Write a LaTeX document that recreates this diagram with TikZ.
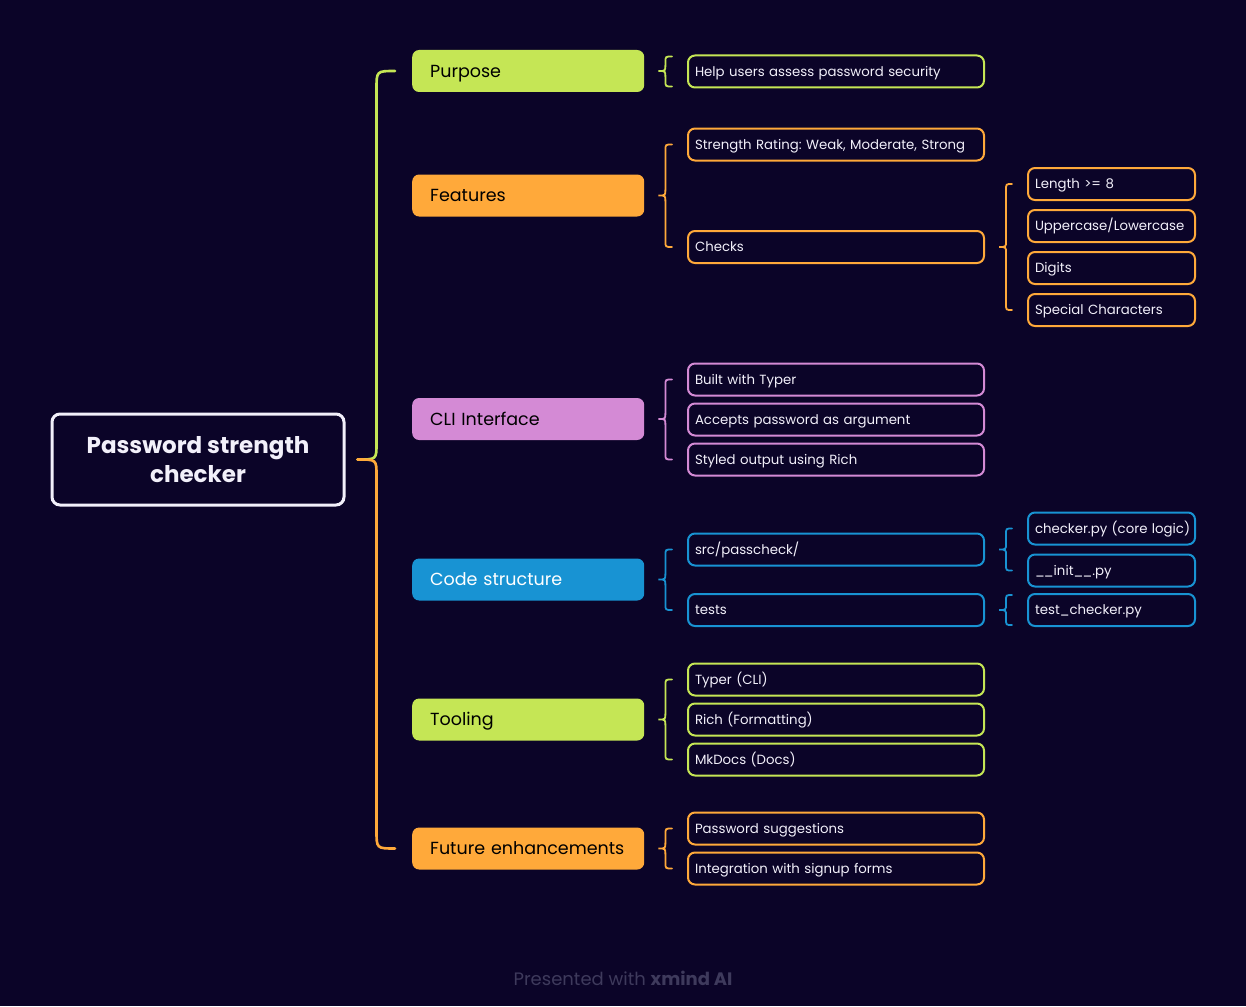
\documentclass[tikz,border=0pt]{standalone}
\usepackage{fontspec}
\setmainfont{Poppins}
\usetikzlibrary{calc}
\definecolor{bg}{HTML}{0B0428}
\definecolor{cgreen}{HTML}{C5E655}
\definecolor{corange}{HTML}{FFA93A}
\definecolor{cpink}{HTML}{D48AD5}
\definecolor{cblue}{HTML}{1893D3}
\definecolor{ctext}{HTML}{F2F0FA}
\definecolor{cfoot}{HTML}{3E3A5C}
\frenchspacing
\newcommand{\brc}[4]{%
\draw[#1, line width=1.8pt, line cap=round] let \p1=(#2.east), \p2=(#3), \p3=(#4),
  \n1={\x1+14}, \n2={\x1+21}, \n3={\x2-15} in
  (\n3,\y2) .. controls (\n2,\y2) .. (\n2,\y2-6pt) -- (\n2,\y1+6pt)
  .. controls (\n2,\y1) .. (\n1,\y1) .. controls (\n2,\y1) .. (\n2,\y1-6pt)
  -- (\n2,\y3+6pt) .. controls (\n2,\y3) .. (\n3,\y3);}
\begin{document}
\begin{tikzpicture}[x=1pt,y=-1pt,
  topic/.style={anchor=west, rounded corners=7pt, minimum width=232pt, minimum height=42pt,
    text width=196pt, inner xsep=18pt, align=left, font=\fontsize{17.5}{21}\selectfont,
    text height=12.4pt, text depth=0pt, text=black},
  sub/.style={anchor=west, draw, line width=2pt, rounded corners=7pt, minimum height=32pt,
    text width=282pt, inner xsep=7pt, align=left, font=\fontsize{13.3}{16}\selectfont,
    text height=9.6pt, text depth=0pt, text=ctext},
  leaf/.style={sub, text width=153pt}]
\fill[bg] (0,0) rectangle (1246,1006);
\useasboundingbox (0,0) rectangle (1246,1006);

% root
\node[draw=ctext, line width=3pt, rounded corners=8pt, minimum width=292pt, minimum height=91pt,
  align=center, font=\bfseries\fontsize{23}{29}\selectfont, text=ctext] (root) at (198,459.5)
  {Password strength\\checker};

% topics
\node[topic, fill=cgreen] (purpose) at (412,71) {Purpose};
\node[topic, fill=corange] (features) at (412,195.5) {Features};
\node[topic, fill=cpink] (cli) at (412,419) {CLI Interface};
\node[topic, fill=cblue, text=white] (code) at (412,579.5) {Code structure};
\node[topic, fill=cgreen] (tooling) at (412,719.5) {Tooling};
\node[topic, fill=corange] (future) at (412,848.5) {Future enhancements};

% subtopics
\node[sub, draw=cgreen] (help) at (687,71.5) {Help users assess password security};
\node[sub, draw=corange] (strength) at (687,144.5) {Strength Rating: Weak, Moderate, Strong};
\node[sub, draw=corange] (checks) at (687,247) {Checks};
\node[leaf, draw=corange] (len) at (1027,184) {Length >= 8};
\node[leaf, draw=corange] (upper) at (1027,226) {Uppercase/Lowercase};
\node[leaf, draw=corange] (digits) at (1027,268) {Digits};
\node[leaf, draw=corange] (special) at (1027,310) {Special Characters};
\node[sub, draw=cpink] (typer) at (687,379.5) {Built with Typer};
\node[sub, draw=cpink] (accepts) at (687,419.5) {Accepts password as argument};
\node[sub, draw=cpink] (styled) at (687,459.5) {Styled output using Rich};
\node[sub, draw=cblue] (src) at (687,549.5) {src/passcheck/};
\node[sub, draw=cblue] (tests) at (687,610) {tests};
\node[leaf, draw=cblue] (checker) at (1027,528.5) {\mbox{checker.py (core logic)}};
\node[leaf, draw=cblue] (init) at (1027,570.5) {\_\kern-0.8pt\_init\_\kern-0.8pt\_.py};
\node[leaf, draw=cblue] (testchk) at (1027,610) {test\_checker.py};
\node[sub, draw=cgreen] (tcli) at (687,679.5) {Typer (CLI)};
\node[sub, draw=cgreen] (rich) at (687,719.5) {Rich (Formatting)};
\node[sub, draw=cgreen] (mkdocs) at (687,759.5) {MkDocs (Docs)};
\node[sub, draw=corange] (suggest) at (687,828.5) {Password suggestions};
\node[sub, draw=corange] (signup) at (687,868.5) {Integration with signup forms};

% root brace
\draw[cgreen, line width=2.6pt, line cap=round] let \p1=(root.east), \p2=(purpose.west),
  \n1={\x1+12}, \n2={\x1+31} in
  (\x2-17pt,\y2) .. controls (\n2,\y2) .. (\n2,\y2-18pt) -- (\n2,\y1+16pt)
  .. controls (\n2,\y1) .. (\n1,\y1);
\draw[corange, line width=2.6pt, line cap=round] let \p1=(root.east), \p3=(future.west),
  \n1={\x1+12}, \n2={\x1+31} in
  (\n1,\y1) .. controls (\n2,\y1) .. (\n2,\y1-16pt) -- (\n2,\y3+18pt)
  .. controls (\n2,\y3) .. (\x3-17pt,\y3);

% braces
\brc{cgreen}{purpose}{$(help.north west)+(0,2)$}{$(help.south west)+(0,-2)$}
\brc{corange}{features}{strength.west}{checks.west}
\brc{corange}{checks}{len.west}{special.west}
\brc{cpink}{cli}{typer.west}{styled.west}
\brc{cblue}{code}{src.west}{tests.west}
\brc{cblue}{src}{checker.west}{init.west}
\brc{cblue}{tests}{$(testchk.north west)+(0,2)$}{$(testchk.south west)+(0,-2)$}
\brc{cgreen}{tooling}{tcli.west}{mkdocs.west}
\brc{corange}{future}{suggest.west}{signup.west}

% footer
\node[text=cfoot, font=\fontsize{18}{22}\selectfont] (foot) at (623,978) {Presented with \textbf{xmind AI}};
\end{tikzpicture}
\end{document}
